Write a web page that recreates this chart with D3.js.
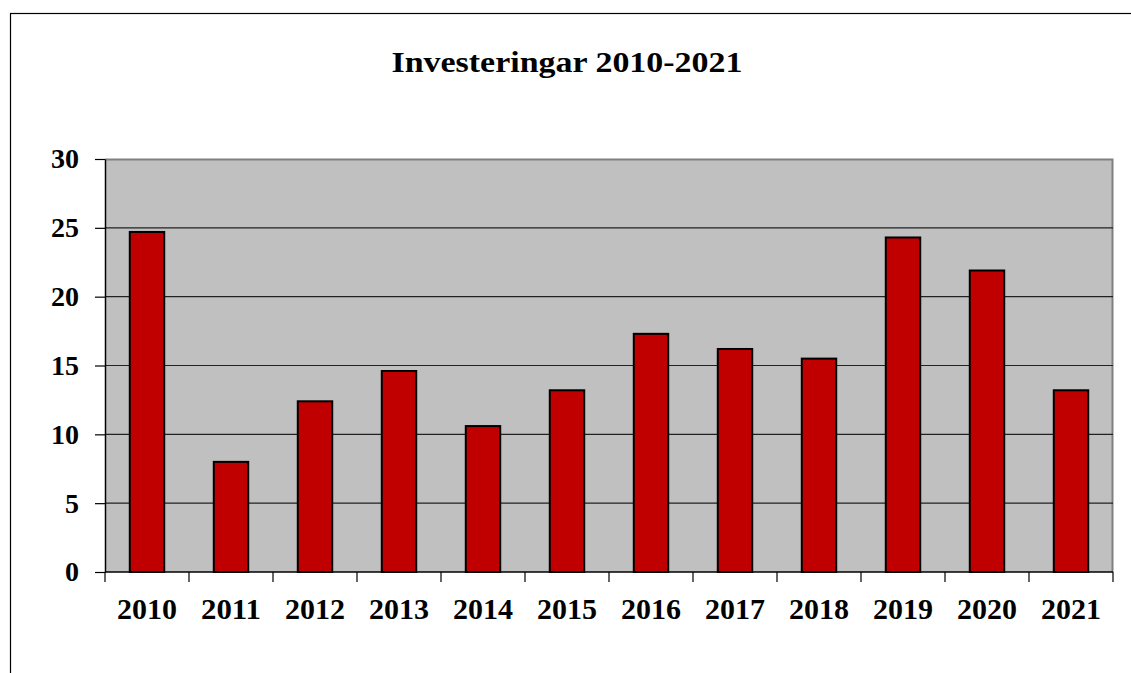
<!DOCTYPE html>
<html>
<head>
<meta charset="utf-8">
<script src="https://cdn.jsdelivr.net/npm/d3@7"></script>
<style>
  body { margin: 0; background: #fff; }
  text { font-family: "Liberation Serif", "Times New Roman", serif; font-weight: bold; }
</style>
</head>
<body>
<svg width="1131" height="673"></svg>
<script>
var years = ["2010", "2011", "2012", "2013", "2014", "2015", "2016", "2017", "2018", "2019", "2020", "2021"];
var values = [24.7, 8.0, 12.4, 14.6, 10.6, 13.2, 17.3, 16.2, 15.5, 24.3, 21.9, 13.2];
var yTicks = [0, 5, 10, 15, 20, 25, 30];

var svg = d3.select("svg");

// outer chart frame (cut off on right/bottom)
svg.append("rect")
    .attr("x", 10.5).attr("y", 13.5)
    .attr("width", 1140).attr("height", 700)
    .attr("fill", "#fff").attr("stroke", "#000").attr("stroke-width", 1.2);

var margin = {top: 159, left: 105, right: 18, bottom: 100},
    width = 1131 - margin.left - margin.right,
    height = 572 - margin.top;

var g = svg.append("g").attr("transform", "translate(" + margin.left + "," + margin.top + ")");

var x = d3.scaleBand().domain(years).range([0, width]).paddingInner(0).paddingOuter(0);
var y = d3.scaleLinear().domain([0, 30]).range([height, 0]);

// plot area
g.append("rect")
    .attr("width", width).attr("height", height)
    .attr("fill", "#c0c0c0");
g.append("path")
    .attr("d", "M0,0.5H" + (width - 0.5) + "V" + height)
    .attr("fill", "none").attr("stroke", "#808080").attr("stroke-width", 2);

// gridlines
g.selectAll(".grid")
  .data(yTicks.filter(d => d > 0 && d < 30))
  .enter().append("line")
    .attr("x1", 0).attr("x2", width)
    .attr("y1", d => y(d)).attr("y2", d => y(d))
    .attr("stroke", "#222").attr("stroke-width", 1.2);

// bars
var bw = x.bandwidth() * 0.41;
g.selectAll(".bar")
  .data(values)
  .enter().append("rect")
    .attr("x", (d, i) => x(years[i]) + (x.bandwidth() - bw) / 2)
    .attr("y", d => y(d))
    .attr("width", bw)
    .attr("height", d => y(0) - y(d))
    .attr("fill", "#c00000")
    .attr("stroke", "#000").attr("stroke-width", 2);

// y axis
var yAxis = g.append("g")
    .call(d3.axisLeft(y).tickValues(yTicks).tickSize(10).tickPadding(16).tickSizeOuter(0));
yAxis.select(".domain").attr("stroke", "#000").attr("stroke-width", 1.5);
yAxis.selectAll("line").attr("stroke-width", 1.2);
yAxis.selectAll("text").attr("font-size", 28).attr("fill", "#000")
    .style("font-family", "'Liberation Serif', serif").style("font-weight", "bold");

// x axis
var xb = d3.scaleLinear().domain([0, years.length]).range([0, width]);
var xAxis = g.append("g").attr("transform", "translate(0," + height + ")");
xAxis.append("line").attr("x1", 0).attr("x2", width).attr("stroke", "#000").attr("stroke-width", 1.5);
xAxis.selectAll(".xt")
  .data(d3.range(years.length + 1))
  .enter().append("line")
    .attr("x1", d => xb(d)).attr("x2", d => xb(d))
    .attr("y1", 0).attr("y2", 10)
    .attr("stroke", "#000").attr("stroke-width", 1.2);
xAxis.selectAll(".xl")
  .data(years)
  .enter().append("text")
    .attr("x", d => x(d) + x.bandwidth() / 2)
    .attr("y", 47)
    .attr("text-anchor", "middle")
    .attr("font-size", 29)
    .attr("textLength", 60)
    .attr("lengthAdjust", "spacingAndGlyphs")
    .text(d => d);

// title
svg.append("text")
    .attr("x", 567).attr("y", 72)
    .attr("text-anchor", "middle")
    .attr("font-size", 30)
    .attr("textLength", 351)
    .attr("lengthAdjust", "spacingAndGlyphs")
    .text("Investeringar 2010-2021");
</script>
</body>
</html>
